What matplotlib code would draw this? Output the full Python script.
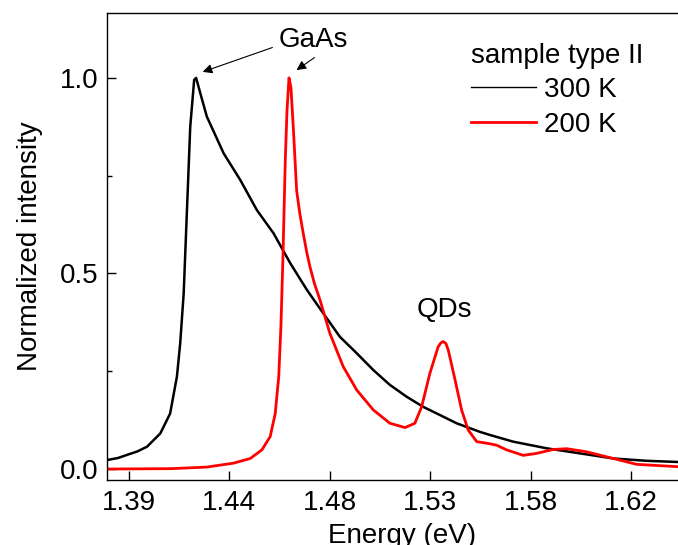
import matplotlib
matplotlib.use("Agg")
import matplotlib.pyplot as plt
from matplotlib.ticker import FixedLocator, FixedFormatter, MultipleLocator

plt.rcParams['font.family'] = ['Liberation Sans', 'DejaVu Sans']
plt.rcParams['font.size'] = 20

# 300 K spectrum
e_300 = [1.3801, 1.3850, 1.3892, 1.3940, 1.3984, 1.4045, 1.4090, 1.4121, 1.4136,
         1.4152, 1.4167, 1.4182, 1.4200, 1.4209, 1.4228, 1.4258, 1.4335, 1.4411,
         1.4487, 1.4563, 1.4640, 1.4716, 1.4791, 1.4867, 1.4944, 1.5020, 1.5096,
         1.5172, 1.5248, 1.5325, 1.5401, 1.5508, 1.5554, 1.5660, 1.5813, 1.5966,
         1.6118, 1.6271, 1.6414, 1.6500]
i_300 = [0.023, 0.028, 0.036, 0.045, 0.057, 0.091, 0.142, 0.236, 0.321,
         0.449, 0.662, 0.875, 0.995, 1.000, 0.961, 0.901, 0.807, 0.739,
         0.662, 0.603, 0.526, 0.458, 0.398, 0.338, 0.296, 0.253, 0.215,
         0.185, 0.159, 0.138, 0.117, 0.095, 0.087, 0.070, 0.053, 0.040,
         0.027, 0.021, 0.018, 0.016]

# 200 K spectrum
e_200 = [1.3801, 1.4096, 1.4258, 1.4380, 1.4457, 1.4510, 1.4548, 1.4571, 1.4587,
         1.4597, 1.4606, 1.4617, 1.4625, 1.4634, 1.4643, 1.4655, 1.4669, 1.4683,
         1.4699, 1.4716, 1.4730, 1.4750, 1.4776, 1.4821, 1.4882, 1.4944, 1.5020,
         1.5096, 1.5165, 1.5210, 1.5241, 1.5279, 1.5317, 1.5330, 1.5340, 1.5352,
         1.5363, 1.5394, 1.5424, 1.5454, 1.5493, 1.5539, 1.5584, 1.5630, 1.5706,
         1.5767, 1.5843, 1.5905, 1.5996, 1.6118, 1.6225, 1.6414, 1.6500]
i_200 = [0.000, 0.001, 0.005, 0.015, 0.027, 0.049, 0.083, 0.142, 0.236,
         0.364, 0.535, 0.790, 0.918, 1.000, 0.975, 0.860, 0.712, 0.655,
         0.603, 0.552, 0.517, 0.475, 0.432, 0.347, 0.262, 0.202, 0.151,
         0.117, 0.106, 0.117, 0.159, 0.245, 0.313, 0.323, 0.326, 0.321,
         0.304, 0.228, 0.151, 0.100, 0.070, 0.066, 0.061, 0.049, 0.035,
         0.040, 0.050, 0.052, 0.044, 0.027, 0.012, 0.006, 0.005]

x_ticks = [1.39, 1.436, 1.482, 1.528, 1.574, 1.62]
x_labels = ['1.39', '1.44', '1.48', '1.53', '1.58', '1.62']

fig = plt.figure(figsize=(6.78, 5.45), dpi=100)
ax = fig.add_axes([0.1578, 0.1193, 0.8698, 0.8569])

ax.plot(e_300, i_300, color='black', lw=1.8, label='300 K')
ax.plot(e_200, i_200, color='red', lw=2.0, label='200 K')

ax.set_xlim(1.3801, 1.65)
ax.set_ylim(-0.028, 1.166)
ax.xaxis.set_major_locator(FixedLocator(x_ticks))
ax.xaxis.set_major_formatter(FixedFormatter(x_labels))
ax.yaxis.set_major_locator(MultipleLocator(0.5))
ax.yaxis.set_minor_locator(MultipleLocator(0.25))
ax.yaxis.set_major_formatter(plt.FuncFormatter(lambda v, p: '%.1f' % v))
ax.tick_params(direction='in', length=6.5, width=1.0)
ax.tick_params(which='minor', direction='in', length=3.5, width=1.0)
ax.tick_params(axis='x', pad=7)
ax.tick_params(axis='y', pad=6)
for s in ax.spines.values():
    s.set_linewidth(1.0)

ax.set_xlabel('Energy (eV)', labelpad=5)
ax.set_ylabel('Normalized intensity', labelpad=12)

ax.annotate('', xy=(1.4227, 1.013), xytext=(1.457, 1.080),
            arrowprops=dict(arrowstyle='-|>', color='black', lw=0.8, mutation_scale=14))
ax.annotate('', xy=(1.4658, 1.016), xytext=(1.4761, 1.056),
            arrowprops=dict(arrowstyle='-|>', color='black', lw=0.8, mutation_scale=14))
ax.text(1.4745, 1.097, 'GaAs', ha='center', va='center')
ax.text(1.5345, 0.407, 'QDs', ha='center', va='center')

leg = ax.legend(title='sample type II', loc='upper left', bbox_to_anchor=(0.617, 0.936),
                frameon=False, handlelength=2.35, handletextpad=0.3, labelspacing=0.3,
                borderpad=0, borderaxespad=0, alignment='left', title_fontsize=20)
leg.get_lines()[0].set_linewidth(1.0)

fig.savefig('out.png', dpi=100)
